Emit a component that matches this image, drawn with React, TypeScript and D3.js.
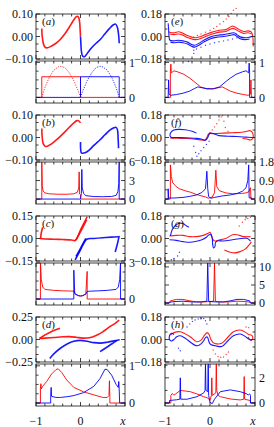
import React from 'react';
import * as d3 from 'd3';

type Pt = [number, number];

// ---------- (a) ----------
const aTopRed: Pt[] = [[-0.87, 0.036], [-0.86, 0.0], [-0.83, -0.035], [-0.79, -0.049], [-0.74, -0.05], [-0.65, -0.042], [-0.55, -0.03], [-0.45, -0.012], [-0.35, 0.012], [-0.25, 0.042], [-0.17, 0.068], [-0.1, 0.087], [-0.07, 0.09], [-0.04, 0.084], [-0.02, 0.065], [-0.008, 0.03], [0, 0]];
const aTopBlue: Pt[] = [[0, 0], [0.008, -0.03], [0.02, -0.065], [0.04, -0.084], [0.07, -0.09], [0.1, -0.088], [0.17, -0.07], [0.25, -0.05], [0.35, -0.03], [0.45, -0.012], [0.55, 0.012], [0.65, 0.035], [0.74, 0.052], [0.79, 0.055], [0.83, 0.04], [0.86, 0.0], [0.87, -0.03]];
const aBotRed: Pt[] = [[-1, 0], [-0.87, 0], [-0.87, 0.59], [0, 0.59], [0, 0], [1, 0]];
const aBotBlue: Pt[] = [[-1, 0], [0, 0], [0, 0.59], [0.87, 0.59], [0.87, 0], [1, 0]];
const aBotRedDot: Pt[] = [[-0.87, 0], [-0.8, 0.28], [-0.7, 0.58], [-0.6, 0.78], [-0.5, 0.87], [-0.44, 0.89], [-0.35, 0.85], [-0.25, 0.7], [-0.15, 0.48], [-0.05, 0.18], [0, 0]];
const aBotBlueDot: Pt[] = [[0, 0], [0.05, 0.18], [0.15, 0.48], [0.25, 0.7], [0.35, 0.85], [0.44, 0.89], [0.5, 0.87], [0.6, 0.78], [0.7, 0.58], [0.8, 0.28], [0.87, 0]];

// ---------- (b) ----------
const bTopRed: Pt[] = [[-0.87, 0.04], [-0.86, 0.0], [-0.84, -0.026], [-0.8, -0.038], [-0.76, -0.04], [-0.65, -0.028], [-0.55, -0.012], [-0.46, 0.004], [-0.35, 0.025], [-0.24, 0.048], [-0.15, 0.065], [-0.08, 0.075], [-0.04, 0.074], [0, 0.065]];
const bTopBlue: Pt[] = [[0, -0.02], [0.005, -0.055], [0.02, -0.068], [0.1, -0.068], [0.2, -0.055], [0.3, -0.035], [0.44, -0.01], [0.55, 0.012], [0.66, 0.033], [0.75, 0.043], [0.8, 0.045], [0.83, 0.035], [0.845, 0.0], [0.855, -0.048]];
const bBotRed: Pt[] = [[-1, 0], [-0.87, 0], [-0.87, 6.2], [-0.86, 2.2], [-0.84, 1.3], [-0.8, 1.0], [-0.7, 0.85], [-0.5, 0.78], [-0.3, 0.78], [-0.15, 0.85], [-0.07, 1.1], [-0.04, 1.8], [-0.03, 4.4], [-0.02, 0.8], [0, 0.7], [0, 0], [1, 0]];
const bBotBlue: Pt[] = [[-1, 0], [0, 0], [0.02, 0.9], [0.03, 4.8], [0.04, 1.8], [0.07, 0.9], [0.12, 0.55], [0.3, 0.4], [0.5, 0.38], [0.7, 0.42], [0.8, 0.6], [0.84, 1.2], [0.86, 2.5], [0.87, 6.2], [0.87, 0], [1, 0]];

// ---------- (c) ----------
const cTopRed: Pt[] = [[-0.9, 0.0], [-0.8, -0.003], [-0.6, -0.005], [-0.4, -0.007], [-0.2, -0.01], [-0.12, -0.013], [0.02, 0.07], [0.15, 0.145]];
const cTopRed2: Pt[] = [[-0.1, -0.01], [0.02, 0.055], [0.14, 0.125]];
const cTopRedHook: Pt[] = [[-0.9, -0.005], [-0.88, 0.04], [-0.85, 0.075]];
const cTopBlue: Pt[] = [[-0.12, -0.143], [0.0, -0.075], [0.14, -0.005], [0.3, 0.0], [0.5, 0.005], [0.7, 0.009], [0.85, 0.012]];
const cTopBlue2: Pt[] = [[-0.1, -0.12], [0.02, -0.055], [0.12, 0.0]];
const cTopBlueHook: Pt[] = [[0.78, -0.09], [0.83, -0.035], [0.87, 0.017]];
const cBotRed: Pt[] = [[-1, 0], [-0.9, 0], [-0.9, 3.1], [-0.88, 1.6], [-0.85, 1.0], [-0.8, 0.8], [-0.6, 0.72], [-0.4, 0.68], [-0.2, 0.66], [-0.14, 0.65], [-0.12, 0.4], [-0.05, 0.28], [0, 0.25], [0.05, 0.28], [0.12, 0.45], [0.15, 2.3], [0.15, 0], [1, 0]];
const cBotBlue: Pt[] = [[-1, 0], [-0.15, 0], [-0.15, 2.4], [-0.13, 0.45], [-0.05, 0.28], [0, 0.25], [0.05, 0.28], [0.12, 0.4], [0.15, 0.62], [0.2, 0.65], [0.4, 0.68], [0.6, 0.72], [0.8, 0.8], [0.85, 1.0], [0.88, 1.6], [0.9, 3.1], [0.9, 0], [1, 0]];

// ---------- (d) ----------
const dTopRed: Pt[] = [[-0.92, 0.012], [-0.8, 0.015], [-0.6, 0.022], [-0.4, 0.03], [-0.25, 0.032], [-0.1, 0.025], [0.05, 0.015], [0.2, 0.02], [0.35, 0.045], [0.5, 0.085], [0.65, 0.14], [0.78, 0.18], [0.87, 0.215]];
const dTopRed2: Pt[] = [[-0.92, 0.012], [-0.8, 0.05], [-0.65, 0.09], [-0.46, 0.124]];
const dTopBlue: Pt[] = [[-0.69, -0.21], [-0.6, -0.16], [-0.46, -0.1], [-0.3, -0.05], [-0.15, -0.02], [0, -0.01], [0.15, -0.02], [0.3, -0.035], [0.45, -0.04], [0.6, -0.03], [0.75, -0.015], [0.88, -0.003]];
const dTopBlue2: Pt[] = [[0.44, -0.135], [0.55, -0.1], [0.7, -0.05], [0.82, -0.01]];
const dBotRed: Pt[] = [[-1, 0], [-0.9, 0], [-0.9, 0.4], [-0.89, 0.52], [-0.88, 0.38], [-0.85, 0.45], [-0.76, 0.58], [-0.65, 0.78], [-0.55, 0.9], [-0.5, 0.92], [-0.42, 0.82], [-0.31, 0.62], [-0.15, 0.42], [0.07, 0.3], [0.3, 0.22], [0.5, 0.15], [0.6, 0.15], [0.64, 0.2], [0.65, 0.6], [0.66, 0.15], [0.66, 0], [1, 0]];
const dBotBlue: Pt[] = [[-1, 0], [-0.67, 0], [-0.67, 0.17], [-0.66, 0.42], [-0.65, 0.18], [-0.55, 0.15], [-0.45, 0.15], [-0.3, 0.17], [-0.15, 0.2], [0.07, 0.28], [0.3, 0.45], [0.44, 0.66], [0.55, 0.91], [0.6, 0.9], [0.7, 0.75], [0.8, 0.5], [0.85, 0.42], [0.86, 0.58], [0.87, 0.35], [0.88, 0], [1, 0]];

// ---------- (e) ----------
const eTopRed: Pt[] = [[-0.92, 0.038], [-0.85, 0.03], [-0.78, 0.03], [-0.7, 0.038], [-0.6, 0.025], [-0.5, 0.008], [-0.4, -0.005], [-0.32, -0.01], [-0.22, -0.002], [-0.1, 0.015], [0.05, 0.035], [0.2, 0.05], [0.35, 0.055], [0.45, 0.075], [0.5, 0.084], [0.56, 0.075], [0.65, 0.055], [0.75, 0.04], [0.85, 0.045], [0.92, 0.035], [0.95, 0.0], [0.96, -0.08]];
const eTopRed2: Pt[] = [[-0.9, 0.02], [-0.8, 0.015], [-0.7, 0.02], [-0.6, 0.01], [-0.5, -0.008], [-0.4, -0.02], [-0.32, -0.025], [-0.22, -0.018], [-0.1, 0.0], [0.05, 0.02], [0.2, 0.035], [0.35, 0.04], [0.45, 0.058], [0.5, 0.065], [0.56, 0.058], [0.65, 0.04], [0.75, 0.025], [0.85, 0.03], [0.92, 0.02]];
const eTopBlue: Pt[] = [[-0.93, 0.105], [-0.92, 0.06], [-0.91, 0.0], [-0.89, -0.03], [-0.8, -0.035], [-0.7, -0.03], [-0.6, -0.035], [-0.5, -0.045], [-0.4, -0.065], [-0.34, -0.07], [-0.25, -0.055], [-0.14, -0.03], [0.0, -0.005], [0.16, 0.01], [0.3, 0.015], [0.45, 0.025], [0.53, 0.03], [0.6, 0.015], [0.67, -0.003], [0.78, -0.01], [0.88, -0.005], [0.93, 0.0]];
const eTopBlue2: Pt[] = [[-0.88, -0.045], [-0.8, -0.05], [-0.7, -0.045], [-0.6, -0.05], [-0.5, -0.06], [-0.4, -0.08], [-0.34, -0.085], [-0.25, -0.07], [-0.14, -0.045], [0, -0.02], [0.16, -0.005], [0.3, 0.0], [0.45, 0.01], [0.53, 0.015], [0.6, 0.0], [0.67, -0.018], [0.78, -0.025], [0.88, -0.02]];
const eTopRedDots: Pt[] = [[-0.36, -0.003], [-0.28, 0.008], [-0.2, 0.02], [-0.1, 0.035], [0.0, 0.05], [0.08, 0.065], [0.15, 0.08], [0.22, 0.1], [0.3, 0.12], [0.36, 0.14], [0.42, 0.16], [0.47, 0.185], [0.52, 0.21], [0.58, 0.225]];
const eTopBlueDots: Pt[] = [[-0.36, -0.11], [-0.3, -0.1], [-0.2, -0.085], [-0.1, -0.07], [0.0, -0.06], [0.1, -0.05], [0.2, -0.042], [0.3, -0.035], [0.4, -0.028], [0.5, -0.02], [0.6, -0.01], [-0.36, -0.135], [-0.48, -0.2]];
const eBotRed: Pt[] = [[-1, 0], [-0.88, 0], [-0.88, 0.75], [-0.87, 0.95], [-0.86, 0.7], [-0.8, 0.76], [-0.72, 0.73], [-0.58, 0.66], [-0.45, 0.55], [-0.36, 0.46], [-0.21, 0.3], [-0.07, 0.24], [0.05, 0.25], [0.16, 0.27], [0.27, 0.3], [0.35, 0.25], [0.45, 0.18], [0.6, 0.12], [0.75, 0.08], [0.85, 0.06], [0.9, 0.1], [0.91, 0.5], [0.92, 0.05], [0.93, 0], [1, 0]];
const eBotBlue: Pt[] = [[-1, 0], [-0.93, 0], [-0.92, 0.5], [-0.91, 0.1], [-0.88, 0.06], [-0.75, 0.08], [-0.6, 0.12], [-0.45, 0.18], [-0.35, 0.25], [-0.27, 0.3], [-0.16, 0.27], [-0.05, 0.25], [0.07, 0.24], [0.21, 0.3], [0.36, 0.46], [0.45, 0.55], [0.58, 0.66], [0.72, 0.73], [0.8, 0.76], [0.86, 0.7], [0.87, 0.98], [0.88, 0.72], [0.88, 0], [1, 0]];

// ---------- (f) ----------
const fTopRed: Pt[] = [[-0.88, -0.005], [-0.7, -0.005], [-0.5, -0.008], [-0.3, -0.015], [-0.18, -0.02], [-0.11, -0.02], [-0.07, 0.0], [-0.04, 0.025], [0.0, 0.035], [0.05, 0.03], [0.15, 0.032], [0.3, 0.035], [0.5, 0.038], [0.7, 0.042], [0.82, 0.05], [0.88, 0.055], [0.93, 0.045], [0.96, 0.02], [0.95, -0.008], [0.9, -0.02], [0.82, -0.012], [0.72, -0.006]];
const fTopBlue: Pt[] = [[-0.3, 0.035], [-0.4, 0.05], [-0.55, 0.062], [-0.7, 0.065], [-0.8, 0.06], [-0.86, 0.045], [-0.89, 0.02], [-0.87, 0.002], [-0.75, 0.0], [-0.55, -0.002], [-0.35, -0.006], [-0.22, -0.01], [-0.14, -0.02], [-0.1, -0.022], [-0.05, 0.0], [-0.01, 0.03], [0.03, 0.036], [0.1, 0.028], [0.2, 0.015], [0.4, 0.01], [0.6, 0.008], [0.8, 0.003], [0.92, 0.0]];
const fTopRedDots: Pt[] = [[0.0, 0.04], [0.05, 0.06], [0.1, 0.085], [0.15, 0.11], [0.2, 0.14], [0.25, 0.165], [0.28, 0.175], [0.31, 0.13], [0.34, 0.08], [0.4, 0.05]];
const fTopBlueDots: Pt[] = [[-0.02, -0.03], [-0.08, -0.055], [-0.14, -0.08], [-0.2, -0.105], [-0.25, -0.13], [-0.29, -0.15], [-0.32, -0.12], [-0.36, -0.07]];
const fBotRed: Pt[] = [[-1, 0], [-0.88, 0], [-0.88, 1.66], [-0.86, 1.1], [-0.83, 0.8], [-0.75, 0.6], [-0.68, 0.5], [-0.55, 0.4], [-0.43, 0.33], [-0.3, 0.22], [-0.2, 0.16], [-0.1, 0.1], [-0.03, 0.04], [0.05, 0.1], [0.1, 0.3], [0.13, 1.4], [0.15, 0.6], [0.21, 0.4], [0.35, 0.3], [0.5, 0.26], [0.7, 0.27], [0.8, 0.3], [0.86, 0.35], [0.9, 0.55], [0.91, 0], [1, 0]];
const fBotBlue: Pt[] = [[-1, 0], [-0.93, 0], [-0.93, 0.5], [-0.92, 0.05], [-0.8, 0.05], [-0.6, 0.08], [-0.45, 0.13], [-0.3, 0.2], [-0.18, 0.32], [-0.1, 0.5], [-0.07, 1.35], [-0.05, 0.5], [-0.03, 0.12], [0.02, 0.04], [0.1, 0.08], [0.27, 0.15], [0.45, 0.2], [0.6, 0.27], [0.72, 0.38], [0.8, 0.55], [0.84, 0.9], [0.86, 1.66], [0.87, 0.06], [0.92, 0.06], [0.92, 0], [1, 0]];

// ---------- (g) ----------
const gTopRed: Pt[] = [[-0.9, 0.02], [-0.75, 0.025], [-0.6, 0.025], [-0.45, 0.015], [-0.3, 0.015], [-0.15, 0.025], [-0.05, 0.04], [0.0, 0.05], [0.03, 0.03], [0.06, -0.005], [0.1, -0.02], [0.2, -0.012], [0.35, 0.0], [0.5, 0.03], [0.6, 0.03], [0.75, 0.015], [0.9, 0.015]];
const gTopRedArc: Pt[] = [[0.32, -0.092], [0.45, -0.11], [0.55, -0.115], [0.67, -0.105], [0.78, -0.085], [0.86, -0.055], [0.92, -0.027]];
const gTopBlue: Pt[] = [[-0.9, -0.01], [-0.75, -0.015], [-0.6, -0.025], [-0.45, -0.03], [-0.3, -0.022], [-0.18, -0.01], [-0.08, 0.01], [-0.02, 0.03], [0.02, 0.03], [0.05, 0.0], [0.06, -0.05], [0.08, -0.075], [0.11, -0.065], [0.12, -0.035], [0.16, -0.02], [0.3, -0.02], [0.5, -0.01], [0.7, 0.0], [0.82, 0.002], [0.9, -0.02]];
const gTopBlueArc: Pt[] = [[-0.88, 0.02], [-0.84, 0.07], [-0.78, 0.1], [-0.7, 0.12], [-0.6, 0.12], [-0.52, 0.1], [-0.47, 0.09]];
const gTopRedDots: Pt[] = [[0.65, 0.1], [0.72, 0.13], [0.78, 0.15], [0.84, 0.16], [0.9, 0.17]];
const gTopBlueDots: Pt[] = [[-0.68, -0.11], [-0.72, -0.14], [-0.8, -0.16], [-0.86, -0.17]];
const gBotRed: Pt[] = [[-1, 0], [-0.9, 0], [-0.88, 0.6], [-0.75, 1.0], [-0.6, 1.0], [-0.45, 0.6], [-0.3, 0.3], [-0.15, 0.3], [0.0, 0.4], [0.08, 0.5], [0.1, 11.2], [0.12, 0.5], [0.2, 0.3], [0.4, 0.3], [0.6, 0.5], [0.8, 0.4], [0.9, 0.2], [0.91, 0], [1, 0]];
const gBotBlue: Pt[] = [[-1, 0], [-0.91, 0], [-0.9, 0.2], [-0.8, 0.4], [-0.6, 0.5], [-0.4, 0.3], [-0.2, 0.3], [-0.07, 0.5], [-0.05, 11.2], [-0.03, 0.5], [0.0, 0.4], [0.15, 0.3], [0.3, 0.3], [0.45, 0.6], [0.6, 1.0], [0.75, 1.0], [0.88, 0.6], [0.9, 0], [1, 0]];

// ---------- (h) ----------
const hTopRed: Pt[] = [[-0.88, 0.035], [-0.8, 0.055], [-0.66, 0.062], [-0.55, 0.045], [-0.44, 0.022], [-0.29, -0.018], [-0.2, -0.005], [-0.12, 0.035], [-0.06, 0.055], [-0.02, 0.04], [0.02, 0.0], [0.07, -0.025], [0.15, -0.035], [0.26, -0.03], [0.4, 0.02], [0.52, 0.062], [0.67, 0.076], [0.8, 0.055], [0.86, 0.04], [0.92, 0.035], [0.95, 0.02], [0.93, -0.005], [0.88, 0.0], [0.85, 0.02]];
const hTopBlue: Pt[] = [[-0.8, 0.04], [-0.86, 0.05], [-0.9, 0.03], [-0.9, 0.0], [-0.86, -0.012], [-0.8, 0.0], [-0.74, 0.022], [-0.66, 0.03], [-0.55, 0.01], [-0.44, -0.02], [-0.34, -0.045], [-0.28, -0.05], [-0.2, -0.035], [-0.14, -0.01], [-0.1, 0.015], [-0.06, 0.02], [-0.03, -0.01], [0.0, -0.035], [0.05, -0.045], [0.12, -0.05], [0.26, -0.056], [0.4, -0.01], [0.52, 0.03], [0.67, 0.044], [0.78, 0.025], [0.86, 0.003], [0.92, -0.005]];
const hTopBlueDots: Pt[] = [[-0.51, 0.1], [-0.45, 0.125], [-0.39, 0.145], [-0.33, 0.156], [-0.26, 0.165], [-0.2, 0.17], [-0.14, 0.168], [-0.1, 0.15], [-0.07, 0.124], [-0.7, -0.07], [-0.66, -0.09]];
const hTopRedDots: Pt[] = [[0.07, -0.084], [0.12, -0.115], [0.18, -0.137], [0.24, -0.142], [0.3, -0.14], [0.36, -0.12], [0.41, -0.1], [0.8, 0.1], [0.86, 0.095]];
const hBotRed: Pt[] = [[-1, 0], [-0.87, 0], [-0.87, 0.6], [-0.84, 0.75], [-0.8, 0.62], [-0.66, 1.0], [-0.44, 0.9], [-0.29, 0.72], [-0.14, 0.5], [-0.05, 0.4], [0.0, 0.2], [0.03, 0.6], [0.04, 2.0], [0.05, 0.6], [0.13, 0.8], [0.14, 3.3], [0.15, 1.0], [0.18, 0.6], [0.23, 0.5], [0.45, 0.32], [0.67, 0.24], [0.75, 0.3], [0.76, 2.1], [0.77, 0.3], [0.89, 0.2], [0.9, 0], [1, 0]];
const hBotBlue: Pt[] = [[-1, 0], [-0.9, 0], [-0.9, 0.2], [-0.75, 0.25], [-0.67, 0.3], [-0.66, 2.0], [-0.65, 0.3], [-0.51, 0.3], [-0.29, 0.5], [-0.14, 0.8], [-0.11, 1.0], [-0.1, 3.3], [-0.09, 1.0], [-0.05, 0.9], [-0.04, 3.3], [-0.03, 0.6], [0.0, 0.05], [0.05, -0.05], [0.1, 0.3], [0.23, 0.9], [0.45, 1.04], [0.67, 0.9], [0.8, 0.75], [0.85, 0.64], [0.88, 0.72], [0.9, 0.6], [0.9, 0], [1, 0]];

const RED = '#ff0000';
const BLUE = '#0000ff';

interface Curve { pts: Pt[]; color: string; style?: 'solid' | 'dash' | 'dots' }
interface PanelDef {
  label: string;
  col: number;
  row: number;
  topMax: number;
  botDomain: [number, number];
  botStep: number;
  botLabels: number[];
  botFmt: string;
  top: Curve[];
  bottom: Curve[];
}

const r = (pts: Pt[], style?: Curve['style']): Curve => ({ pts, color: RED, style });
const b = (pts: Pt[], style?: Curve['style']): Curve => ({ pts, color: BLUE, style });

const panels: PanelDef[] = [
  { label: 'a', col: 0, row: 0, topMax: 0.1, botDomain: [-0.16, 1.04], botStep: 0.25, botLabels: [0, 1], botFmt: 'd',
    top: [r(aTopRed), b(aTopBlue)], bottom: [r(aBotRed), b(aBotBlue), r(aBotRedDot, 'dash'), b(aBotBlueDot, 'dash')] },
  { label: 'b', col: 0, row: 1, topMax: 0.1, botDomain: [-0.8, 6], botStep: 1.5, botLabels: [0, 3, 6], botFmt: 'd',
    top: [r(bTopRed), b(bTopBlue)], bottom: [r(bBotRed), b(bBotBlue)] },
  { label: 'c', col: 0, row: 2, topMax: 0.15, botDomain: [-0.5, 3], botStep: 0.75, botLabels: [0, 3], botFmt: 'd',
    top: [r(cTopRed), r(cTopRed2), r(cTopRedHook), b(cTopBlue), b(cTopBlue2), b(cTopBlueHook)], bottom: [r(cBotRed), b(cBotBlue)] },
  { label: 'd', col: 0, row: 3, topMax: 0.25, botDomain: [-0.08, 1.05], botStep: 0.25, botLabels: [0, 1], botFmt: 'd',
    top: [r(dTopRed), r(dTopRed2), b(dTopBlue), b(dTopBlue2)], bottom: [r(dBotRed), b(dBotBlue)] },
  { label: 'e', col: 1, row: 0, topMax: 0.18, botDomain: [-0.16, 1.04], botStep: 0.25, botLabels: [0, 1], botFmt: 'd',
    top: [r(eTopRedDots, 'dots'), b(eTopBlueDots, 'dots'), r(eTopRed), r(eTopRed2), b(eTopBlue), b(eTopBlue2)], bottom: [r(eBotRed), b(eBotBlue)] },
  { label: 'f', col: 1, row: 1, topMax: 0.18, botDomain: [-0.24, 1.8], botStep: 0.45, botLabels: [0, 0.9, 1.8], botFmt: '.1f',
    top: [r(fTopRedDots, 'dots'), b(fTopBlueDots, 'dots'), r(fTopRed), b(fTopBlue)], bottom: [r(fBotRed), b(fBotBlue)] },
  { label: 'g', col: 1, row: 2, topMax: 0.18, botDomain: [-0.55, 11.1], botStep: 2.5, botLabels: [0, 5, 10], botFmt: 'd',
    top: [r(gTopRedDots, 'dots'), b(gTopBlueDots, 'dots'), r(gTopRed), r(gTopRedArc), b(gTopBlue), b(gTopBlueArc)], bottom: [r(gBotRed), b(gBotBlue)] },
  { label: 'h', col: 1, row: 3, topMax: 0.18, botDomain: [-0.24, 3.1], botStep: 1, botLabels: [0, 2], botFmt: 'd',
    top: [r(hTopRedDots, 'dots'), b(hTopBlueDots, 'dots'), r(hTopRed), b(hTopBlue)], bottom: [r(hBotRed), b(hBotBlue)] },
];

const COLS: [number, number][] = [[36, 125], [165, 255]];
const ROWS = [14, 115, 216, 317];
const TOP_H = 45;
const BOT_Y0 = 47;
const BOT_Y1 = 89;
const FONT = '"Liberation Serif", "DejaVu Serif", serif';
const xTicks = d3.range(-1, 1.0001, 0.2);

function Frame(props: { x0: number; x1: number; y0: number; y1: number; yTicks: number[]; yMajor: number[]; y: d3.ScaleLinear<number, number>; x: d3.ScaleLinear<number, number> }) {
  const { x0, x1, y0, y1, yTicks, yMajor, x, y } = props;
  const lines: JSX.Element[] = [];
  xTicks.forEach((t, i) => {
    const px = x(t);
    const len = Math.abs(Math.round(t * 10)) % 5 === 0 ? 4 : 2.5;
    lines.push(<line key={`xb${i}`} x1={px} x2={px} y1={y1} y2={y1 - len} />);
    lines.push(<line key={`xt${i}`} x1={px} x2={px} y1={y0} y2={y0 + len} />);
  });
  yTicks.forEach((t, i) => {
    const py = y(t);
    const major = yMajor.some((m) => Math.abs(m - t) < 1e-9);
    const len = major ? 4 : 2.5;
    lines.push(<line key={`yl${i}`} x1={x0} x2={x0 + len} y1={py} y2={py} />);
    lines.push(<line key={`yr${i}`} x1={x1} x2={x1 - len} y1={py} y2={py} />);
  });
  return (
    <g stroke="#111" strokeWidth={0.8} fill="none">
      {lines}
      <rect x={x0} y={y0} width={x1 - x0} height={y1 - y0} />
    </g>
  );
}

function Panel({ p }: { p: PanelDef }) {
  const [x0, x1] = COLS[p.col];
  const t = ROWS[p.row];
  const x = d3.scaleLinear().domain([-1, 1]).range([x0, x1]);
  const yTop = d3.scaleLinear().domain([-p.topMax, p.topMax]).range([t + TOP_H, t]);
  const yBot = d3.scaleLinear().domain(p.botDomain).range([t + BOT_Y1, t + BOT_Y0]);
  const topLine = d3.line<Pt>().x((d) => x(d[0])).y((d) => yTop(d[1])).curve(d3.curveCatmullRom.alpha(0.5));
  const botLine = d3.line<Pt>().x((d) => x(d[0])).y((d) => yBot(d[1]));
  const fmtTop = d3.format('.2f');
  const fmtBot = d3.format(p.botFmt);
  const topTicks = d3.range(-3, 4).map((k) => (k * p.topMax) / 3);
  const botTicks = d3.range(0, p.botDomain[1] + 1e-9, p.botStep);
  const clipId = `clip-${p.label}`;
  const topW = p.col === 0 ? 1.6 : 1.1;

  const drawCurve = (c: Curve, i: number, line: d3.Line<Pt>, y: d3.ScaleLinear<number, number>, w: number) => {
    if (c.style === 'dots') {
      return (
        <g key={i} fill={c.color} opacity={0.75}>
          {c.pts.map((d, j) => <circle key={j} cx={x(d[0])} cy={y(d[1])} r={0.7} />)}
        </g>
      );
    }
    return (
      <path key={i} d={line(c.pts) ?? ''} fill="none" stroke={c.color} strokeWidth={c.style === 'dash' ? 1 : w}
        strokeDasharray={c.style === 'dash' ? '1.2 1.3' : undefined} strokeOpacity={c.style === 'dash' ? 0.8 : 0.9}
        strokeLinejoin="round" />
    );
  };

  return (
    <g>
      <defs>
        <clipPath id={clipId}>
          <rect x={x0} y={t + BOT_Y0} width={x1 - x0} height={BOT_Y1 - BOT_Y0} />
        </clipPath>
      </defs>
      {p.top.map((c, i) => drawCurve(c, i, topLine, yTop, topW))}
      <g clipPath={`url(#${clipId})`}>
        {p.bottom.map((c, i) => drawCurve(c, i, botLine, yBot, 1.0))}
      </g>
      <Frame x0={x0} x1={x1} y0={t} y1={t + TOP_H} x={x} y={yTop} yTicks={topTicks} yMajor={[-p.topMax, 0, p.topMax]} />
      <Frame x0={x0} x1={x1} y0={t + BOT_Y0} y1={t + BOT_Y1} x={x} y={yBot} yTicks={botTicks} yMajor={p.botLabels} />
      <g style={{ fontFamily: FONT, fontSize: 12 }} fill="#111">
        {[p.topMax, 0, -p.topMax].map((v) => (
          <text key={v} x={x0 - 3} y={yTop(v)} dy="0.35em" textAnchor="end">{fmtTop(v)}</text>
        ))}
        {p.botLabels.map((v) => (
          <text key={v} x={x1 + 4} y={yBot(v)} dy="0.35em">{fmtBot(v)}</text>
        ))}
        <text x={x0 + 6} y={t + 11} style={{ fontSize: 11 }}>
          (<tspan fontStyle="italic">{p.label}</tspan>)
        </text>
        {p.row === 3 && (
          <g textAnchor="middle">
            <text x={x(-1)} y={425}>−1</text>
            <text x={x(0)} y={425}>0</text>
            <text x={x(1) - 2} y={425} fontStyle="italic">x</text>
          </g>
        )}
      </g>
    </g>
  );
}

export default function App(): JSX.Element {
  return (
    <svg width={274} height={427} style={{ position: 'absolute', left: 0, top: 0, background: '#fff' }}>
      <rect width={274} height={427} fill="#fff" />
      {panels.map((p) => <Panel key={p.label} p={p} />)}
    </svg>
  );
}
